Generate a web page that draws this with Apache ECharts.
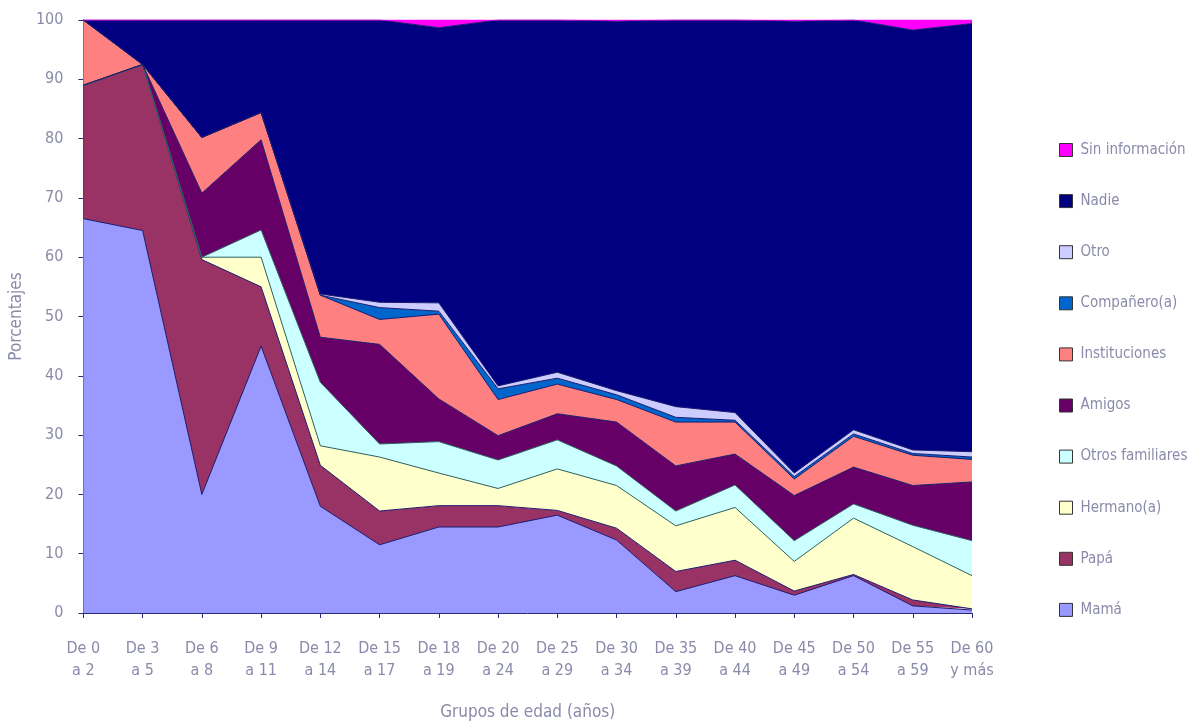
<!DOCTYPE html>
<html>
<head>
<meta charset="utf-8">
<script src="https://cdn.jsdelivr.net/npm/echarts@6/dist/echarts.min.js"></script>
<style>html,body{margin:0;padding:0;background:#fff;}#c{width:1189px;height:726px;}</style>
</head>
<body>
<div id="c"></div>
<script>
const categories = ['De 0\na 2','De 3\na 5','De 6\na 8','De 9\na 11','De 12\na 14','De 15\na 17','De 18\na 19','De 20\na 24','De 25\na 29','De 30\na 34','De 35\na 39','De 40\na 44','De 45\na 49','De 50\na 54','De 55\na 59','De 60\ny más'];
const mama        = [66.5, 64.5, 20.0, 45.0, 18.0, 11.5, 14.5, 14.5, 16.5, 12.3, 3.6, 6.3, 3.0, 6.3, 1.2, 0.5];
const papa        = [22.5, 28.0, 39.6, 10.0, 6.9, 5.7, 3.6, 3.6, 0.8, 2.0, 3.4, 2.6, 0.7, 0.2, 1.0, 0.2];
const hermano     = [0, 0, 0.4, 5.0, 3.3, 9.1, 5.5, 2.9, 7.0, 7.2, 7.7, 8.9, 5.0, 9.5, 9.0, 5.6];
const otrosFam    = [0, 0, 0, 4.6, 10.7, 2.2, 5.3, 4.8, 4.9, 3.3, 2.5, 3.8, 3.5, 2.4, 3.6, 5.9];
const amigos      = [0, 0, 10.8, 15.2, 7.6, 16.8, 7.2, 4.1, 4.4, 7.4, 7.6, 5.2, 7.6, 6.2, 6.7, 9.9];
const instituc    = [11.0, 0, 9.4, 4.6, 7.1, 4.2, 14.3, 6.1, 5.0, 3.8, 7.4, 5.4, 2.8, 5.2, 5.1, 3.8];
const companero   = [0, 0, 0, 0, 0, 2.0, 0.5, 1.8, 1.0, 0.8, 0.8, 0.3, 0.4, 0.4, 0.3, 0.4];
const otro        = [0, 0, 0, 0, 0.2, 0.9, 1.4, 0.5, 1.0, 0.7, 1.8, 1.3, 0.6, 0.7, 0.6, 0.9];
const nadie       = [0, 7.5, 19.8, 15.6, 46.2, 47.6, 46.4, 61.7, 59.4, 62.3, 65.2, 66.2, 76.2, 69.1, 70.8, 72.2];
const sinInfo     = [0, 0, 0, 0, 0, 0, 1.3, 0, 0, 0.2, 0, 0, 0.2, 0, 1.7, 0.6];
const yTicks = [0,10,20,30,40,50,60,70,80,90,100];

const seriesDefs = [
  ['Mamá', mama, '#9999FF', '#1a1a6e'],
  ['Papá', papa, '#993366', '#1a1a6e'],
  ['Hermano(a)', hermano, '#FFFFCC', '#2f5f5f'],
  ['Otros familiares', otrosFam, '#CCFFFF', '#2f5f5f'],
  ['Amigos', amigos, '#660066', '#1a1a6e'],
  ['Instituciones', instituc, '#FF8080', '#1a1a6e'],
  ['Compañero(a)', companero, '#0066CC', '#1a1a6e'],
  ['Otro', otro, '#CCCCFF', '#1a1a6e'],
  ['Nadie', nadie, '#000080', '#1a1a6e'],
  ['Sin información', sinInfo, '#FF00FF', '#FF00FF']
];

const font = '"DejaVu Sans Condensed", "Liberation Sans Narrow", "Open Sans", sans-serif';
const txt = '#8a8aaa';

const chart = echarts.init(document.getElementById('c'), null, {renderer: 'canvas'});
chart.setOption({
  animation: false,
  backgroundColor: '#fff',
  grid: {left: 83, right: 217, top: 20, bottom: 111, containLabel: false},
  legend: {
    orient: 'vertical',
    left: 1054,
    top: 137.5,
    itemWidth: 13,
    itemHeight: 13,
    itemGap: 36.1,
    icon: 'rect',
    itemStyle: {borderColor: '#333', borderWidth: 1},
    textStyle: {color: txt, fontFamily: font, fontSize: 15, lineHeight: 15, padding: [0,0,0,3]},
    data: seriesDefs.map(s => s[0]).reverse()
  },
  xAxis: {
    type: 'category',
    data: categories,
    boundaryGap: false,
    name: 'Grupos de edad (años)',
    nameLocation: 'middle',
    nameGap: 91,
    nameTextStyle: {color: txt, fontFamily: font, fontSize: 17},
    axisLine: {lineStyle: {color: '#2a2a7a', width: 1}},
    axisTick: {show: true, length: 5, lineStyle: {color: '#2a2a7a'}},
    axisLabel: {color: txt, fontFamily: font, fontSize: 16, lineHeight: 22, margin: 25, interval: 0},
    splitLine: {show: false}
  },
  yAxis: {
    type: 'value',
    min: yTicks[0],
    max: yTicks[yTicks.length - 1],
    interval: 10,
    name: 'Porcentajes',
    nameLocation: 'middle',
    nameGap: 56,
    nameRotate: 90,
    nameTextStyle: {color: txt, fontFamily: font, fontSize: 17},
    axisLine: {show: true, lineStyle: {color: '#2a2a7a', width: 1}},
    axisTick: {show: true, length: 5, lineStyle: {color: '#2a2a7a'}},
    axisLabel: {color: txt, fontFamily: font, fontSize: 16, margin: 20},
    splitLine: {show: false}
  },
  series: seriesDefs.map(([name, data, color, line]) => ({
    name: name,
    type: 'line',
    stack: 'total',
    data: data,
    symbol: 'none',
    smooth: false,
    itemStyle: {color: color},
    lineStyle: {color: line, width: 1},
    areaStyle: {color: color, opacity: 1}
  }))
});
</script>
</body>
</html>
